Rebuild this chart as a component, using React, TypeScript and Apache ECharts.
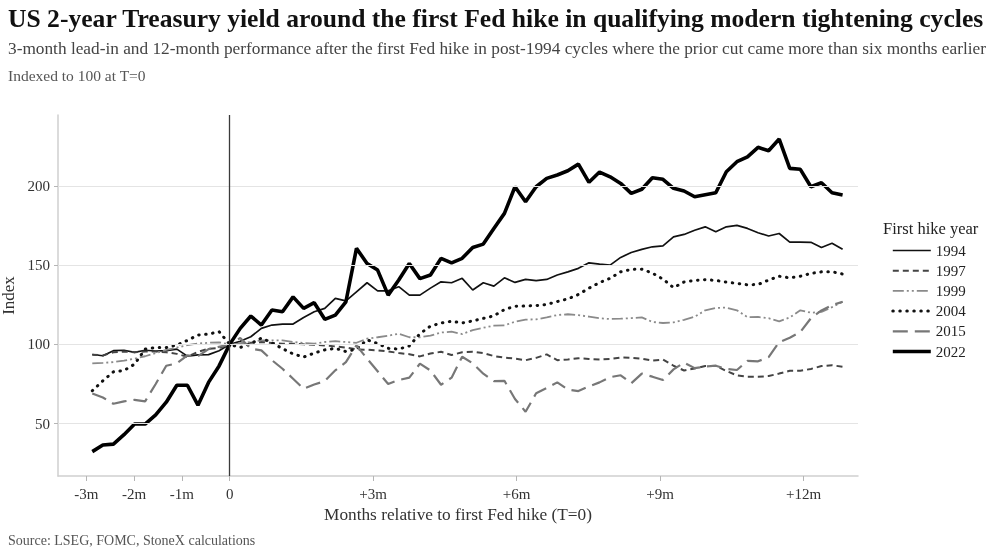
import React, { useEffect, useRef } from "react";
import * as echarts from "echarts";

const FONT = "'Liberation Serif', 'DejaVu Serif', serif";

// weekly observations, T=0 is the week of the first hike
const WEEKS = [
  -13, -12, -11, -10, -9, -8, -7, -6, -5, -4, -3, -2, -1, 0,
  1, 2, 3, 4, 5, 6, 7, 8, 9, 10, 11, 12, 13, 14, 15, 16, 17, 18,
  19, 20, 21, 22, 23, 24, 25, 26, 27, 28, 29, 30, 31, 32, 33, 34, 35, 36,
  37, 38, 39, 40, 41, 42, 43, 44, 45, 46, 47, 48, 49, 50, 51, 52, 53, 54, 55, 56, 57, 58,
];
const MONTHS_PER_WEEK = 0.221;

const X_TICKS = [-3, -2, -1, 0, 3, 6, 9, 12];
const Y_TICKS = [50, 100, 150, 200];

const Y1994 = [
  93.6, 92.8, 96, 96.3, 94.9, 96.3, 95.8, 96, 97, 92.6, 93.4, 93.5, 96, 100,
  102, 104.8, 110.1, 112.2, 112.8, 112.8, 117, 120.6, 122.7, 129, 127.5, 133.2, 138.9, 133.8, 133.8, 136.4, 131.1, 131.1,
  135.5, 139.5, 138.9, 141.7, 134.3, 138.9, 136.8, 142, 139.1, 141, 140.2, 141, 143.8, 145.8, 148, 151.5, 150.6, 150,
  154.9, 158, 160, 161.6, 162.2, 167.9, 169.4, 172, 174.2, 171.1, 174.2, 175.1, 173.2, 170.5, 168.4, 170, 164.6, 164.5, 164.4, 161.2, 163.8, 160,
];
const Y1997 = [
  93.5, 93, 95, 95.5, 95, 95.5, 95.5, 95, 94, 92.2, 95.3, 97.2, 97.8, 100,
  100.5, 101, 101.5, 100.8, 100.4, 100.4, 100, 99.7, 99.3, 98.7, 98, 96.8, 96.6, 96.2, 95.6, 94.5, 93.8, 92.4,
  94.2, 95.3, 93.3, 95, 95.3, 94.5, 92.6, 91.6, 91, 90, 91.5, 93.7, 90, 90.5, 91.2, 90.8, 90.5, 90.8,
  91.7, 91.5, 91, 89.8, 90.4, 86.5, 83.5, 84.8, 86.3, 86.5, 83.2, 80.4, 79.5, 79.5, 80, 81.6, 83.3, 83.3, 84.5, 86.3, 86.8, 85.9,
];
const Y1999 = [
  88, 88.3, 88.8, 89.7, 91, 92.5, 94.5, 96.5, 98, 99.5, 100.5, 101, 101.3, 100,
  100.5, 101.5, 102.5, 102.5, 102.5, 101.5, 100.8, 100.4, 101.5, 102, 101.5, 101, 103.6, 104.5, 105.5, 106.7, 104.5, 104.5,
  105.5, 107.5, 108, 106.5, 109, 110.5, 111.8, 112, 114.3, 115.6, 115.8, 117, 118.5, 119, 118.5, 117.5, 116.5, 116,
  116.2, 116.6, 117, 114.2, 113.5, 113.9, 115.5, 117.4, 121.5, 123, 123.2, 121.5, 117.2, 117.3, 116.5, 114.5, 117, 121.5, 120, 120.5, 123.5, 126.9,
];
const Y2004 = [
  70.7, 77, 82.7, 83.5, 87.5, 97, 98, 98, 99.6, 102.5, 105.9, 106.5, 108, 100,
  98, 100.5, 104, 101, 97.3, 94, 92, 94.5, 96.5, 97.5, 95.5, 97, 102.9, 100.5, 97.5, 97, 99, 106.7,
  111.5, 113.5, 114.6, 113.5, 114.8, 116.4, 118, 122, 124, 124.2, 124.5, 125.2, 127, 128.7, 131.5, 135.5, 139, 141.7,
  145.8, 147.3, 147.5, 145, 141.2, 135.8, 139.4, 140.4, 140.8, 140.4, 139.3, 138.5, 137.6, 137.8, 140.6, 143, 142, 143, 144.8, 145.8, 145.8, 144.4,
];
const Y2015 = [
  69, 66.5, 62.5, 64, 65, 64, 75, 86.5, 88, 93, 92.5, 97, 98.5, 100,
  104, 97.3, 96.2, 90, 84.6, 78.3, 72, 74.7, 76.8, 83.6, 88.8, 99.4, 91, 83, 75, 77.5, 79, 87.8,
  83.5, 74.5, 79, 92.2, 88, 81.5, 76.8, 77, 65.5, 57.5, 69.1, 72.4, 76, 71.5, 70.5, 73.5, 76, 79.3,
  80.5, 75.4, 81.5, 79.6, 77.5, 84.2, 88.5, 85, 86, 86.5, 84.5, 83.8, 89.6, 89.3, 92, 101.4, 104.2, 107.8, 116.5, 121.4, 124.7, 126.9,
];
const Y2022 = [
  32.3, 36.5, 37, 43, 49.7, 49.7, 55.5, 63.5, 74.2, 74.2, 61.6, 76, 86.4, 100,
  110.1, 117.9, 112.2, 121.7, 120.6, 130, 122.7, 126.3, 115.8, 118.5, 126.9, 160.6, 151.1, 146.9, 131.1, 140.6, 151.1, 141.5,
  143.8, 154.3, 151.5, 154.3, 161.2, 163.3, 173.2, 182.7, 199.5, 190, 199.5, 204.8, 206.9, 209.6, 213.8, 202.3, 208.8, 205.8,
  201.6, 195.3, 197.9, 205.2, 204.2, 198.5, 196.8, 193.2, 194.5, 195.7, 209, 215.3, 218.4, 224.4, 222.2, 229.6, 211.1, 210.5, 199.5, 202, 195.7, 194.3,
];

const SERIES = [
  { name: "1994", values: Y1994, style: { color: "#111111", width: 1.7, type: "solid" } },
  { name: "1997", values: Y1997, style: { color: "#444444", width: 2, type: [6, 4] } },
  { name: "1999", values: Y1999, style: { color: "#8a8a8a", width: 1.8, type: [11, 3, 2, 3, 2, 3] } },
  { name: "2004", values: Y2004, style: { color: "#111111", width: 3, type: [0.5, 6.5], cap: "round" } },
  { name: "2015", values: Y2015, style: { color: "#777777", width: 2.2, type: [15, 7] } },
  { name: "2022", values: Y2022, style: { color: "#000000", width: 3.6, type: "solid" } },
];

const TITLE = "US 2-year Treasury yield around the first Fed hike in qualifying modern tightening cycles";
const SUBTITLE =
  "3-month lead-in and 12-month performance after the first Fed hike in post-1994 cycles where the prior cut came more than six months earlier";
const NOTE = "Indexed to 100 at T=0";
const SOURCE = "Source: LSEG, FOMC, StoneX calculations";

function fmtMonth(v: number) {
  if (v === 0) return "0";
  return v > 0 ? `+${v}m` : `${v}m`;
}

export default function App() {
  const ref = useRef<HTMLDivElement>(null);
  useEffect(() => {
    if (!ref.current) return;
    const chart = echarts.init(ref.current, null, { renderer: "svg" });
    const lineSeries = SERIES.map((s) => ({
      name: s.name,
      type: "line",
      data: WEEKS.map((w, i) => [w * MONTHS_PER_WEEK, s.values[i]]),
      symbol: "none",
      showSymbol: false,
      silent: true,
      z: 3,
      lineStyle: s.style,
      itemStyle: { color: s.style.color },
      emphasis: { disabled: true },
    }));
    const option: any = {
      animation: false,
      title: [
        { text: TITLE, left: 8, top: 5, padding: 0, textStyle: { fontFamily: FONT, fontSize: 25.6, fontWeight: "bold", color: "#111" } },
        { text: SUBTITLE, left: 8, top: 40, padding: 0, textStyle: { fontFamily: FONT, fontSize: 17.3, fontWeight: "normal", color: "#444" } },
        { text: NOTE, left: 8, top: 67, padding: 0, textStyle: { fontFamily: FONT, fontSize: 15.5, fontWeight: "normal", color: "#555" } },
        { text: SOURCE, left: 8, top: 533, padding: 0, textStyle: { fontFamily: FONT, fontSize: 14, fontWeight: "normal", color: "#555" } },
        { text: "First hike year", left: 883, top: 220, padding: 0, textStyle: { fontFamily: FONT, fontSize: 16.5, fontWeight: "normal", color: "#222" } },
      ],
      legend: {
        data: SERIES.map((s) => ({
          name: s.name,
          itemStyle: { opacity: 0 },
          lineStyle: { color: s.style.color, width: s.style.width, type: s.style.type, cap: (s.style as any).cap || "butt", opacity: 1 },
        })),
        orient: "vertical",
        left: 891,
        top: 243,
        padding: 0,
        itemWidth: 38,
        itemHeight: 14,
        itemGap: 5.2,
        selectedMode: false,
        itemStyle: { opacity: 0 },
        textStyle: { fontFamily: FONT, fontSize: 15, color: "#222" },
      },
      grid: { left: 58, top: 115, width: 800, height: 361, containLabel: false, outerBoundsMode: "none" },
      xAxis: {
        type: "value",
        min: -3.59,
        max: 13.14,
        axisLine: { show: true, onZero: false, lineStyle: { color: "#cfcfcf", width: 1.5 } },
        axisTick: { show: true, customValues: X_TICKS, length: 5, lineStyle: { color: "#b5b5b5" } },
        axisLabel: { customValues: X_TICKS, formatter: fmtMonth, fontFamily: FONT, fontSize: 15, color: "#333", margin: 10 },
        splitLine: { show: false },
        name: "Months relative to first Fed hike (T=0)",
        nameLocation: "middle",
        nameGap: 26,
        nameTextStyle: { fontFamily: FONT, fontSize: 17.3, color: "#333" },
      },
      yAxis: {
        type: "value",
        min: 16.9,
        max: 244.8,
        axisLine: { show: true, onZero: false, lineStyle: { color: "#cfcfcf", width: 1.5 } },
        axisTick: { show: true, customValues: Y_TICKS, length: 4, lineStyle: { color: "#b5b5b5" } },
        axisLabel: { customValues: Y_TICKS, fontFamily: FONT, fontSize: 15, color: "#333", margin: 8 },
        splitLine: { show: false },
        name: "Index",
        nameLocation: "middle",
        nameGap: 37,
        nameRotate: 90,
        nameTextStyle: { fontFamily: FONT, fontSize: 17, color: "#333" },
      },
      series: [
        {
          name: "grid",
          type: "line",
          data: [],
          z: 1,
          silent: true,
          markLine: {
            silent: true,
            symbol: ["none", "none"],
            label: { show: false },
            lineStyle: { color: "#e4e4e4", width: 1, type: "solid" },
            emphasis: { disabled: true },
            data: [
              ...Y_TICKS.map((v) => ({ yAxis: v })),
              { xAxis: 0, lineStyle: { color: "#3a3a3a", width: 1.3, type: "solid" } },
            ],
          },
        },
        ...lineSeries,
      ],
    };
    chart.setOption(option);
    return () => chart.dispose();
  }, []);
  return <div ref={ref} style={{ position: "fixed", left: 0, top: 0, width: 996, height: 558 }} />;
}
